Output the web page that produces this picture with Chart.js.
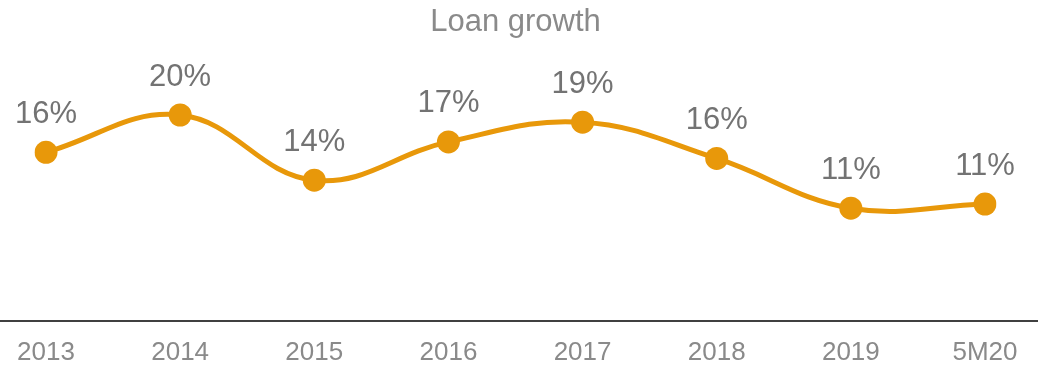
<!DOCTYPE html>
<html>
<head>
<meta charset="utf-8">
<script src="https://cdn.jsdelivr.net/npm/chart.js@4/dist/chart.umd.min.js"></script>
<style>
  html, body { margin: 0; padding: 0; background: #fff; }
  #wrap { width: 1038px; height: 367px; position: relative; }
</style>
</head>
<body>
<div id="wrap"><canvas id="loans"></canvas></div>
<script>
const periods = ["2013", "2014", "2015", "2016", "2017", "2018", "2019", "5M20"];
const loanGrowth = [16.3, 19.9, 13.6, 17.3, 19.2, 15.7, 10.9, 11.3];

const FONT = '"Liberation Sans", Arial, sans-serif';
const ORANGE = '#E8980A';

// value labels above each point
const pointLabels = {
  id: 'pointLabels',
  afterDatasetsDraw(chart) {
    const ctx = chart.ctx;
    const meta = chart.getDatasetMeta(0);
    ctx.save();
    ctx.font = '31px ' + FONT;
    ctx.fillStyle = '#737373';
    ctx.textAlign = 'center';
    ctx.textBaseline = 'middle';
    meta.data.forEach((pt, i) => {
      ctx.fillText(Math.round(loanGrowth[i]) + '%', pt.x, pt.y - 38);
    });
    ctx.restore();
  }
};

// baseline across the whole width at zero
const baseline = {
  id: 'baseline',
  beforeDatasetsDraw(chart) {
    const ctx = chart.ctx;
    const y = Math.round(chart.scales.y.getPixelForValue(0));
    ctx.save();
    ctx.strokeStyle = '#404040';
    ctx.lineWidth = 2;
    ctx.beginPath();
    ctx.moveTo(0, y);
    ctx.lineTo(chart.width, y);
    ctx.stroke();
    ctx.restore();
  }
};

new Chart(document.getElementById('loans'), {
  type: 'line',
  data: {
    labels: periods,
    datasets: [{
      data: loanGrowth,
      borderColor: ORANGE,
      backgroundColor: ORANGE,
      borderWidth: 5,
      tension: 0.4,
      pointRadius: 11.5,
      pointHoverRadius: 11.5,
      pointBorderWidth: 0,
      fill: false
    }]
  },
  options: {
    responsive: true,
    maintainAspectRatio: false,
    animation: false,
    layout: { padding: { left: 46, right: 53, top: 0, bottom: 0 } },
    plugins: {
      legend: { display: false },
      tooltip: { enabled: false },
      title: {
        display: true,
        text: 'Loan growth',
        color: '#8a8a8a',
        font: { family: FONT, size: 31, weight: 'normal', lineHeight: 1.2 },
        padding: { top: 4, bottom: 21 }
      }
    },
    scales: {
      x: {
        offset: false,
        grid: { display: false, drawTicks: false },
        border: { display: false },
        ticks: {
          color: '#8a8a8a',
          font: { family: FONT, size: 26, lineHeight: 1.2 },
          padding: 16,
          maxRotation: 0,
          autoSkip: false
        },
        afterFit(scale) { scale.height = 46; }
      },
      y: {
        display: false,
        min: 0,
        max: 25
      }
    }
  },
  plugins: [baseline, pointLabels]
});
</script>
</body>
</html>
